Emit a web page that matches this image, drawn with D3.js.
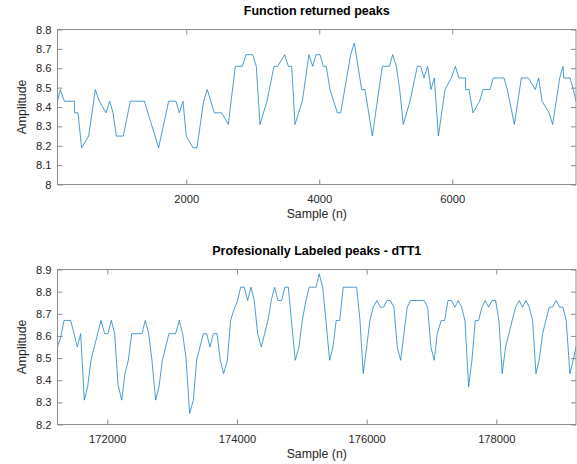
<!DOCTYPE html>
<html>
<head>
<meta charset="utf-8">
<script src="https://cdn.jsdelivr.net/npm/d3@7"></script>
<style>
  html, body { margin: 0; padding: 0; background: #ffffff; }
  svg { display: block; font-family: "Liberation Sans", Arial, Helvetica, sans-serif; }
</style>
</head>
<body>
<svg id="chart" width="577" height="464"></svg>
<script>
// ---------- data ----------
const topTitle = "Function returned peaks";
const bottomTitle = "Profesionally Labeled peaks - dTT1";
const xLabel = "Sample (n)";
const yLabel = "Amplitude";

const topSamples = [63,105,166,316,321,371,426,532,632,692,792,848,898,948,1053,1158,1369,1584,1735,1845,1895,1950,2000,2101,2161,2261,2316,2422,2532,2632,2737,2843,2898,2998,3053,3108,3214,3319,3374,3480,3535,3585,3635,3745,3845,3901,3951,4011,4061,4106,4161,4272,4322,4472,4527,4638,4688,4798,4948,5054,5104,5159,5209,5264,5364,5475,5525,5575,5630,5680,5730,5791,5891,5986,6046,6101,6197,6202,6252,6312,6412,6462,6568,6618,6778,6828,6934,7039,7144,7249,7300,7350,7455,7510,7616,7666,7676,7771,7821,7861];
const topValues = [8.43,8.49,8.43,8.43,8.37,8.37,8.19,8.25,8.49,8.43,8.37,8.43,8.37,8.25,8.25,8.43,8.43,8.19,8.43,8.43,8.37,8.43,8.25,8.19,8.19,8.43,8.49,8.37,8.37,8.31,8.61,8.61,8.67,8.67,8.61,8.31,8.43,8.61,8.61,8.67,8.61,8.61,8.31,8.43,8.67,8.61,8.67,8.67,8.61,8.61,8.49,8.37,8.37,8.67,8.73,8.49,8.49,8.25,8.61,8.61,8.67,8.61,8.49,8.31,8.43,8.61,8.61,8.55,8.61,8.49,8.55,8.25,8.49,8.55,8.61,8.55,8.55,8.49,8.49,8.37,8.43,8.49,8.49,8.55,8.55,8.49,8.31,8.55,8.55,8.49,8.55,8.43,8.37,8.31,8.55,8.61,8.55,8.55,8.49,8.43];

const bottomSamples = [171232,171286,171332,171435,171538,171589,171646,171697,171749,171800,171903,171959,172011,172062,172114,172165,172222,172273,172324,172376,172535,172586,172638,172689,172746,172797,172849,172951,173054,173111,173162,173214,173270,173327,173378,173481,173532,173584,173635,173692,173743,173794,173851,173902,173954,174005,174057,174113,174165,174216,174267,174319,174375,174478,174529,174581,174632,174689,174740,174792,174843,174899,174956,175007,175064,175115,175218,175269,175322,175372,175429,175480,175531,175584,175639,175846,175897,175948,176000,176051,176102,176159,176210,176262,176313,176364,176421,176472,176524,176575,176626,176678,176888,176941,176991,177042,177089,177150,177203,177254,177311,177362,177412,177465,177516,177573,177624,177675,177727,177778,177829,177881,177932,177989,178040,178091,178143,178194,178245,178298,178353,178405,178456,178507,178560,178611,178661,178714,178765,178816,178868,178924,178976,179027,179078,179135,179186,179229];
const bottomValues = [8.55,8.60,8.67,8.67,8.55,8.61,8.31,8.37,8.49,8.55,8.67,8.61,8.61,8.67,8.61,8.38,8.31,8.43,8.49,8.61,8.61,8.67,8.61,8.49,8.31,8.37,8.49,8.61,8.61,8.67,8.61,8.50,8.25,8.31,8.49,8.61,8.61,8.55,8.61,8.61,8.49,8.43,8.49,8.67,8.72,8.755,8.82,8.82,8.76,8.82,8.76,8.61,8.55,8.67,8.76,8.82,8.76,8.76,8.82,8.82,8.66,8.49,8.55,8.67,8.76,8.82,8.82,8.88,8.82,8.67,8.49,8.55,8.67,8.67,8.82,8.82,8.67,8.43,8.55,8.67,8.73,8.76,8.73,8.73,8.76,8.76,8.73,8.55,8.49,8.61,8.73,8.76,8.76,8.73,8.55,8.49,8.61,8.67,8.67,8.76,8.76,8.73,8.76,8.73,8.67,8.37,8.49,8.67,8.67,8.73,8.76,8.73,8.76,8.76,8.67,8.43,8.55,8.61,8.67,8.73,8.76,8.73,8.76,8.73,8.67,8.43,8.49,8.61,8.67,8.73,8.73,8.76,8.73,8.73,8.67,8.43,8.49,8.55];

const topXDomain = [63, 7861];
const topYDomain = [8.0, 8.8];
const topXTicks = [2000, 4000, 6000];
const topYTicks = [8.0, 8.1, 8.2, 8.3, 8.4, 8.5, 8.6, 8.7, 8.8];

const bottomXDomain = [171232, 179229];
const bottomYDomain = [8.2, 8.9];
const bottomXTicks = [172000, 174000, 176000, 178000];
const bottomYTicks = [8.2, 8.3, 8.4, 8.5, 8.6, 8.7, 8.8, 8.9];

// ---------- layout ----------
const svg = d3.select("#chart");
const plotLeft = 57.5, plotRight = 576;
const panels = [
  { title: topTitle, xs: topSamples, ys: topValues, xd: topXDomain, yd: topYDomain, xt: topXTicks, yt: topYTicks, top: 29.5, bottom: 184.5 },
  { title: bottomTitle, xs: bottomSamples, ys: bottomValues, xd: bottomXDomain, yd: bottomYDomain, xt: bottomXTicks, yt: bottomYTicks, top: 269.5, bottom: 424.5 }
];

const axisColor = "#8c8c8c";
const textColor = "#262626";
const lineColor = "#0072BD";
const tickFont = 11.2;
const labelFont = 12.3;

panels.forEach((p, i) => {
  const x = d3.scaleLinear().domain(p.xd).range([plotLeft, plotRight]);
  const y = d3.scaleLinear().domain(p.yd).range([p.bottom, p.top]);
  const g = svg.append("g");

  const clipId = "clip" + i;
  svg.append("clipPath").attr("id", clipId)
    .append("rect").attr("x", plotLeft).attr("y", p.top)
    .attr("width", plotRight - plotLeft).attr("height", p.bottom - p.top);

  // data line
  const data = p.xs.map((v, k) => [v, p.ys[k]]);
  g.append("path")
    .datum(data)
    .attr("clip-path", `url(#${clipId})`)
    .attr("fill", "none")
    .attr("stroke", lineColor)
    .attr("stroke-width", 0.7)
    .attr("stroke-linejoin", "round")
    .attr("d", d3.line().x(d => x(d[0])).y(d => y(d[1])));

  // axes
  const fmtY = d3.format("");
  const styleAxis = sel => {
    sel.select(".domain").remove();
    sel.selectAll(".tick line").attr("stroke", axisColor).attr("stroke-width", 1);
    sel.selectAll(".tick text").attr("fill", textColor).attr("font-size", tickFont)
      .attr("font-family", "'Liberation Sans', Arial, Helvetica, sans-serif");
  };

  g.append("g").attr("transform", `translate(0,${p.bottom})`)
    .call(d3.axisBottom(x).tickValues(p.xt).tickSizeInner(-5).tickSizeOuter(0).tickPadding(10.8).tickFormat(d3.format("d")))
    .call(styleAxis);
  g.append("g").attr("transform", `translate(0,${p.top})`)
    .call(d3.axisTop(x).tickValues(p.xt).tickSizeInner(-5).tickSizeOuter(0).tickFormat(""))
    .call(styleAxis);
  g.append("g").attr("transform", `translate(${plotLeft},0)`)
    .call(d3.axisLeft(y).tickValues(p.yt).tickSizeInner(-5).tickSizeOuter(0).tickPadding(6).tickFormat(d => +d.toFixed(1) + ""))
    .call(styleAxis);
  g.append("g").attr("transform", `translate(${plotRight},0)`)
    .call(d3.axisRight(y).tickValues(p.yt).tickSizeInner(-5).tickSizeOuter(0).tickFormat(""))
    .call(styleAxis);

  // box
  g.append("rect")
    .attr("x", plotLeft).attr("y", p.top)
    .attr("width", plotRight - plotLeft).attr("height", p.bottom - p.top)
    .attr("fill", "none").attr("stroke", axisColor).attr("stroke-width", 1);

  const cx = (plotLeft + plotRight) / 2;
  // title
  g.append("text")
    .attr("x", cx).attr("y", p.top - 14.8)
    .attr("text-anchor", "middle")
    .attr("font-size", 12.5).attr("font-weight", "bold").attr("fill", "#000")
    .text(p.title);
  // x label
  g.append("text")
    .attr("x", cx).attr("y", p.bottom + 33)
    .attr("text-anchor", "middle")
    .attr("font-size", labelFont).attr("fill", textColor)
    .text(xLabel);
  // y label
  g.append("text")
    .attr("transform", `translate(25.5,${(p.top + p.bottom) / 2}) rotate(-90)`)
    .attr("text-anchor", "middle")
    .attr("font-size", labelFont).attr("fill", textColor)
    .text(yLabel);
});
</script>
</body>
</html>
